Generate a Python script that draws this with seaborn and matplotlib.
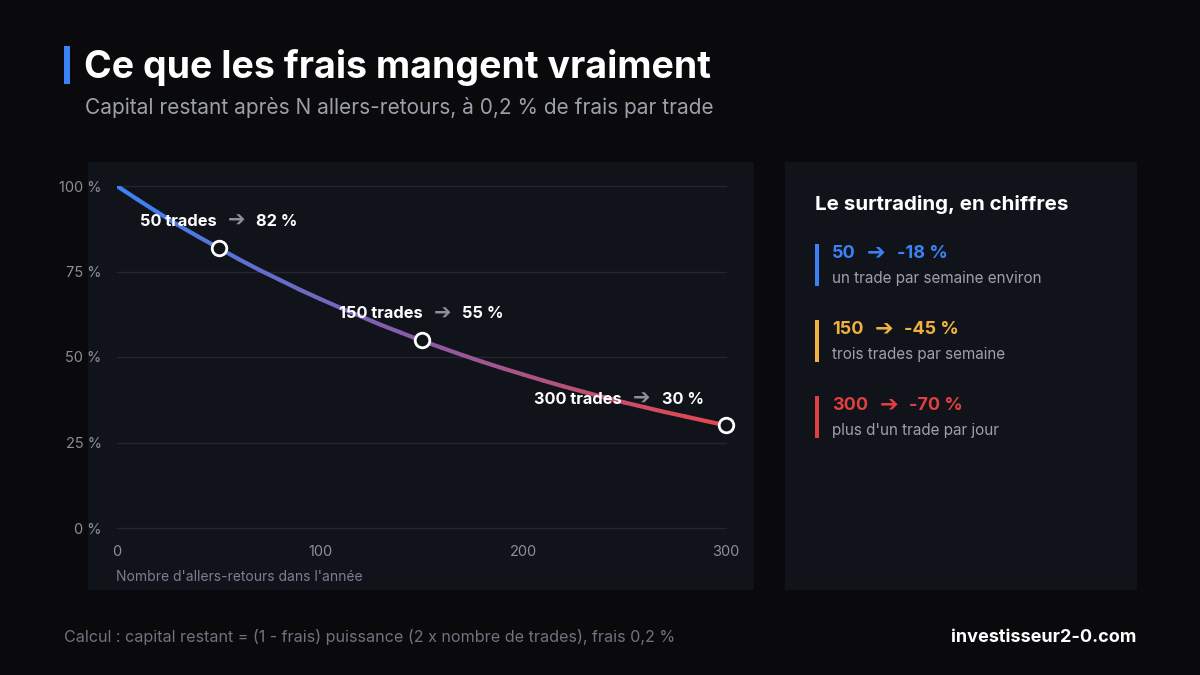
import numpy as np
import matplotlib
matplotlib.use('Agg')
import matplotlib.pyplot as plt
import seaborn as sns
from matplotlib.collections import LineCollection
from matplotlib.colors import LinearSegmentedColormap
from matplotlib.patches import Rectangle
from matplotlib.offsetbox import TextArea, HPacker, AnnotationBbox

# --- Data ---
trades = [0, 10, 20, 30, 40, 50, 60, 70, 80, 90, 100, 110, 120, 130, 140, 150,
          160, 170, 180, 190, 200, 210, 220, 230, 240, 250, 260, 270, 280, 290, 300]
capital = [100, 96.1, 92.3, 88.6, 85.2, 81.9, 78.6, 75.5, 72.6, 69.7, 67.0, 64.4,
           61.9, 59.4, 57.1, 54.8, 52.7, 50.6, 48.6, 46.7, 44.9, 43.1, 41.4, 39.8,
           38.2, 36.7, 35.3, 33.9, 32.6, 31.3, 30.0]

key_trades = [50, 150, 300]
key_capital = [82, 55, 30]

y_ticks = [0, 25, 50, 75, 100]
x_ticks = [0, 100, 200, 300]

side_heads = ['50', '150', '300']
side_losses = ['-18 %', '-45 %', '-70 %']
side_notes = ['un trade par semaine environ', 'trois trades par semaine', "plus d'un trade par jour"]
side_colors = ['#3b82f6', '#f0b13e', '#e0403f']

# --- Style ---
BG = '#0a0a0d'
PANEL = '#11131b'
GRID = '#23262f'
MUTED = '#8b8f99'
BLUE = '#3b82f6'
RED = '#e5484d'
FONT = ['Inter', 'DejaVu Sans']

sns.set_theme(style='dark')
plt.rcParams['font.family'] = FONT

W, H = 1200, 675
fig = plt.figure(figsize=(12, 6.75), dpi=100, facecolor=BG)


def fx(px):
    return px / W


def fy(py):
    return 1 - py / H


# panels (behind the axes)
fig.patches.append(Rectangle((fx(88), fy(590)), fx(754) - fx(88), fy(162) - fy(590),
                             transform=fig.transFigure, facecolor=PANEL, edgecolor='none', zorder=-5))
fig.patches.append(Rectangle((fx(785), fy(590)), fx(1137) - fx(785), fy(162) - fy(590),
                             transform=fig.transFigure, facecolor=PANEL, edgecolor='none', zorder=-5))

# title block
fig.patches.append(Rectangle((fx(64), fy(84)), fx(6), fy(46) - fy(84),
                             transform=fig.transFigure, facecolor=BLUE, edgecolor='none'))
fig.text(fx(84), fy(68), 'Ce que les frais mangent vraiment', color='white',
         fontsize=27, fontweight='bold', va='center', ha='left')
fig.text(fx(85), fy(108), 'Capital restant après N allers-retours, à 0,2 % de frais par trade',
         color='#9ca0aa', fontsize=15, va='center', ha='left')

# --- Chart ---
ax = fig.add_axes([fx(117), fy(528), fx(726) - fx(117), fy(186) - fy(528)])
ax.set_facecolor('none')
ax.patch.set_alpha(0)
ax.set_xlim(0, 300)
ax.set_ylim(0, 100)

for y in y_ticks:
    ax.axhline(y, color=GRID, lw=1, zorder=1, clip_on=False)

x = np.array(trades)
y = np.array(capital)
pts = np.column_stack([x, y]).reshape(-1, 1, 2)
segs = np.concatenate([pts[:-1], pts[1:]], axis=1)
cmap = LinearSegmentedColormap.from_list('fees', [BLUE, '#8b5aa3', RED])
mids = (x[:-1] + x[1:]) / 2 / 300
lc = LineCollection(segs, colors=cmap(mids), linewidths=3, capstyle='round', zorder=3)
ax.add_collection(lc)

sns.scatterplot(x=key_trades, y=key_capital, ax=ax, s=110, color=PANEL,
                edgecolor='white', linewidth=2, zorder=5, clip_on=False)

for i, (n, c) in enumerate(zip(key_trades, key_capital)):
    parts = [TextArea(f'{n} trades', textprops=dict(color='white', fontsize=11.8, fontweight='bold', family=FONT)),
             TextArea('➔', textprops=dict(color='#8b8f99', fontsize=15, family=['DejaVu Sans'])),
             TextArea(f'{c} %', textprops=dict(color='white', fontsize=11.8, fontweight='bold', family=FONT))]
    box = HPacker(children=parts, align='center', pad=0, sep=8)
    if i == len(key_trades) - 1:
        align, off = (1.0, 0.5), (-16, 19)
    else:
        align, off = (0.5, 0.5), (0, 19)
    ab = AnnotationBbox(box, (n, c), xybox=off, xycoords='data', boxcoords='offset points',
                        box_alignment=align, frameon=False, zorder=6, annotation_clip=False)
    ax.add_artist(ab)

ax.set_yticks(y_ticks)
ax.set_yticklabels([f'{t} %' for t in y_ticks])
ax.set_xticks(x_ticks)
ax.set_xticklabels([str(t) for t in x_ticks])
ax.tick_params(axis='both', colors=MUTED, labelsize=10.5, length=0)
ax.tick_params(axis='y', pad=11)
ax.tick_params(axis='x', pad=12)
for s in ax.spines.values():
    s.set_visible(False)
ax.grid(False)

fig.text(fx(116), fy(577), "Nombre d'allers-retours dans l'année", color='#7c808a',
         fontsize=10, va='center', ha='left')

# --- Side panel ---
fig.text(fx(815), fy(205), 'Le surtrading, en chiffres', color='white', fontsize=14.8,
         fontweight='bold', va='center', ha='left')
for i, (hd, loss, note, col) in enumerate(zip(side_heads, side_losses, side_notes, side_colors)):
    top = 244 + i * 76
    fig.patches.append(Rectangle((fx(815), fy(top + 42)), fx(4), fy(top) - fy(top + 42),
                                 transform=fig.transFigure, facecolor=col, edgecolor='none'))
    parts = [TextArea(hd, textprops=dict(color=col, fontsize=13, fontweight='bold', family=FONT)),
             TextArea('➔', textprops=dict(color=col, fontsize=16, family=['DejaVu Sans'])),
             TextArea(loss, textprops=dict(color=col, fontsize=13, fontweight='bold', family=FONT))]
    box = HPacker(children=parts, align='center', pad=0, sep=8)
    ab = AnnotationBbox(box, (fx(832), fy(top + 9)), xycoords='figure fraction',
                        box_alignment=(0, 0.5), frameon=False)
    fig.add_artist(ab)
    fig.text(fx(832), fy(top + 34), note, color='#9ca0aa', fontsize=11, va='center', ha='left')

# --- Footer ---
fig.text(fx(64), fy(637), 'Calcul : capital restant = (1 - frais) puissance (2 x nombre de trades), frais 0,2 %',
         color='#6f737d', fontsize=11.6, va='center', ha='left')
fig.text(fx(1136), fy(637), 'investisseur2-0.com', color='white', fontsize=13,
         fontweight='bold', va='center', ha='right')

fig.savefig('out.png', dpi=100, facecolor=BG)
